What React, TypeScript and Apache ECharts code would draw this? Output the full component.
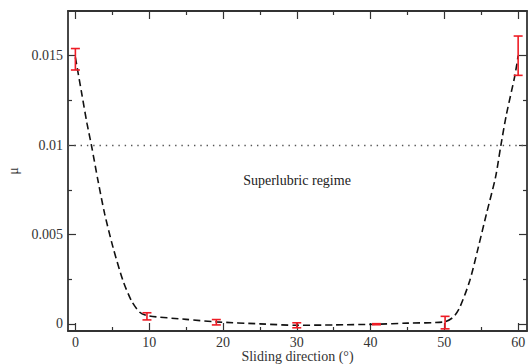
import React, { useEffect, useRef } from "react";
import * as echarts from "echarts";

const xMajor = [0, 10, 20, 30, 40, 50, 60];
const xMinor = [5, 15, 25, 35, 45, 55];
const yMajor = [0, 0.005, 0.01, 0.015];
const yMinor = [0.0025, 0.0075, 0.0125];

// measured points with error bars
const ptX = [0, 9.7, 19.1, 30, 40.8, 50.1, 60];
const ptMean = [0.0148, 0.00042, 0.00009, -0.00008, -0.00002, 0.00007, 0.015];
const ptErr = [0.0006, 0.0002, 0.00015, 0.00014, 0.00003, 0.00035, 0.0011];

// fitted (dashed) curve
const fitX = [0, 0.81, 1.58, 2.17, 3.07, 3.97, 5.1, 6.45, 7.59, 8.72, 9.84, 15, 19.1, 25, 30, 35, 40.8, 45, 50, 51.2, 52.1, 53.45, 54.6, 55.7, 56.93, 57.65, 58.42, 59.55, 60];
const fitY = [0.0149, 0.013, 0.0112, 0.01, 0.008, 0.00615, 0.00428, 0.00242, 0.0013, 0.00065, 0.00045, 0.00025, 0.00011, 0.0, -0.00008, -0.00006, -0.00002, 0.00004, 0.00011, 0.00037, 0.00093, 0.00242, 0.00428, 0.00615, 0.00819, 0.00996, 0.01173, 0.01387, 0.015];

const thresholdY = 0.01;

const FONT = "'Liberation Serif', 'Times New Roman', serif";
const AX = "#333";

export default function App() {
  const ref = useRef<HTMLDivElement>(null);
  useEffect(() => {
    if (!ref.current) return;
    const chart = echarts.init(ref.current, undefined, { renderer: "svg" });
    const lineStyle = { color: AX, width: 1.8 };
    const tickStyle = { color: AX, width: 1.2 };
    const xr = { min: -1, max: 61.2 };
    const yr = { min: -0.0004, max: 0.0175 };
    const mkX = (pos: string, ticks: number[], len: number, main: boolean, labels: boolean) => ({
      type: "value",
      position: pos,
      ...xr,
      axisLine: { show: main, onZero: false, lineStyle },
      axisTick: { show: true, inside: true, length: len, customValues: ticks, lineStyle: tickStyle },
      axisLabel: labels
        ? { show: true, customValues: ticks, margin: 4, fontFamily: FONT, fontSize: 14, color: "#333" }
        : { show: false },
      splitLine: { show: false },
      ...(labels
        ? {
            name: "Sliding direction (°)",
            nameLocation: "middle",
            nameGap: 18,
            nameMoveOverlap: false,
            nameTextStyle: { fontFamily: FONT, fontSize: 14, color: "#333" },
          }
        : {}),
    });
    const mkY = (pos: string, ticks: number[], len: number, main: boolean, labels: boolean) => ({
      type: "value",
      position: pos,
      ...yr,
      axisLine: { show: main, onZero: false, lineStyle },
      axisTick: { show: true, inside: true, length: len, customValues: ticks, lineStyle: tickStyle },
      axisLabel: labels
        ? {
            show: true,
            customValues: ticks,
            margin: 5,
            fontFamily: FONT,
            fontSize: 14,
            color: "#333",
            formatter: (v: number) => String(+v.toFixed(4)),
          }
        : { show: false },
      splitLine: { show: false },
      ...(labels
        ? {
            name: "μ",
            nameLocation: "middle",
            nameGap: 48,
            nameMoveOverlap: false,
            nameTextStyle: { fontFamily: FONT, fontSize: 14, color: "#333" },
          }
        : {}),
    });

    const fitData = fitX.map((x, i) => [x, fitY[i]]);
    const errData = ptX.map((x, i) => [x, ptMean[i] - ptErr[i], ptMean[i] + ptErr[i]]);

    chart.setOption({
      animation: false,
      backgroundColor: "#fff",
      grid: { left: 68, top: 11, right: 2, bottom: 33, containLabel: false, outerBoundsMode: "none" },
      xAxis: [
        mkX("bottom", xMajor, 8, true, true),
        mkX("bottom", xMinor, 4, false, false),
        mkX("top", xMajor, 8, true, false),
        mkX("top", xMinor, 4, false, false),
      ],
      yAxis: [
        mkY("left", yMajor, 8, true, true),
        mkY("left", yMinor, 4, false, false),
        mkY("right", yMajor, 8, true, false),
        mkY("right", yMinor, 4, false, false),
      ],
      graphic: [
        {
          type: "text",
          x: 297,
          y: 180,
          style: {
            text: "Superlubric regime",
            fontFamily: FONT,
            fontSize: 14,
            fill: "#222",
            textAlign: "center",
            textVerticalAlign: "middle",
          },
        },
      ],
      series: [
        {
          type: "line",
          data: fitData,
          showSymbol: false,
          symbol: "none",
          smooth: 0.25,
          lineStyle: { color: "#111", width: 1.6, type: [7, 4] },
          markLine: {
            silent: true,
            symbol: "none",
            label: { show: false },
            lineStyle: { color: "#555", width: 1.4, type: [1.4, 4.9] },
            data: [{ yAxis: thresholdY }],
          },
          z: 2,
        },
        {
          type: "custom",
          data: errData,
          encode: { x: 0, y: [1, 2] },
          z: 3,
          renderItem: (params: any, api: any) => {
            const x = api.value(0);
            const lo = api.coord([x, api.value(1)]);
            const hi = api.coord([x, api.value(2)]);
            const hw = 4.5;
            const st = { stroke: "#ee1c25", lineWidth: 1.6 };
            return {
              type: "group",
              children: [
                { type: "line", shape: { x1: hi[0], y1: hi[1], x2: lo[0], y2: lo[1] }, style: st },
                { type: "line", shape: { x1: hi[0] - hw, y1: hi[1], x2: hi[0] + hw, y2: hi[1] }, style: st },
                { type: "line", shape: { x1: lo[0] - hw, y1: lo[1], x2: lo[0] + hw, y2: lo[1] }, style: st },
              ],
            };
          },
        },
      ],
    });
    return () => chart.dispose();
  }, []);
  return (
    <div
      ref={ref}
      style={{ position: "fixed", left: 0, top: 0, width: 529, height: 364, background: "#fff" }}
    />
  );
}
